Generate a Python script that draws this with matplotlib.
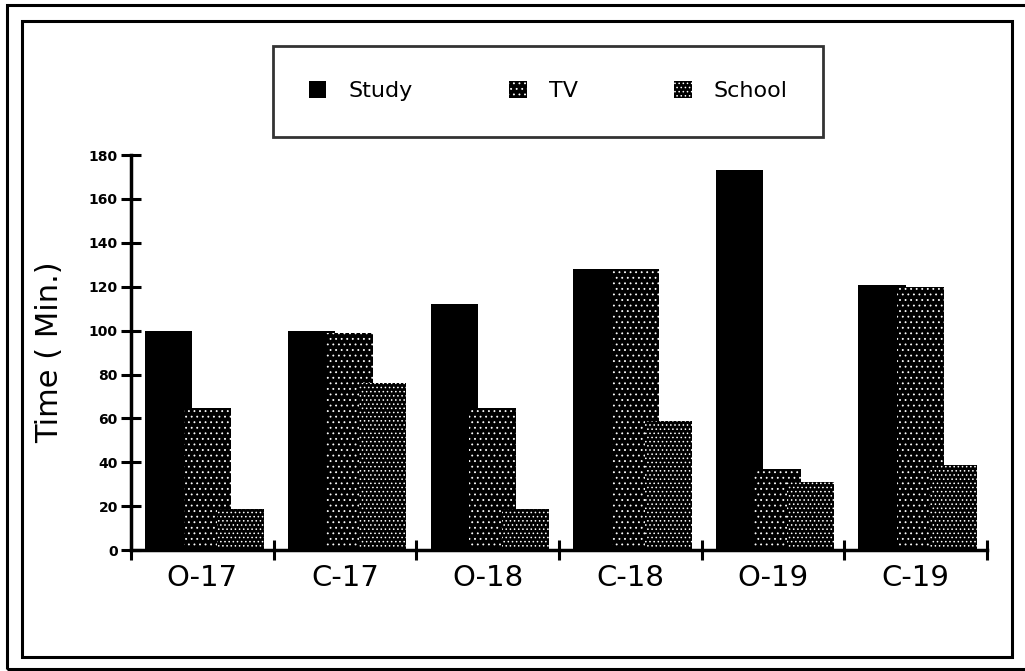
import matplotlib
matplotlib.use("Agg")
import matplotlib.pyplot as plt
from matplotlib.patches import Rectangle

groups = ["O-17", "C-17", "O-18", "C-18", "O-19", "C-19"]
study = [100, 100, 112, 128, 173, 121]
tv = [65, 99, 65, 128, 37, 120]
school = [19, 76, 19, 59, 31, 39]

plt.rcParams['hatch.color'] = 'white'
plt.rcParams['hatch.linewidth'] = 0.6

fig = plt.figure(figsize=(10.25, 6.71), dpi=100)
ax = fig.add_axes([0.1278, 0.180, 0.835, 0.589])

x = list(range(len(groups)))
w = 0.33
ax.bar([i + 0.10 for i in x], study, w, align='edge', color='black', label='Study')
ax.bar([i + 0.37 for i in x], tv, w, align='edge', color='black', hatch='...', label='TV')
ax.bar([i + 0.60 for i in x], school, w, align='edge', color='black', hatch='....', label='School')

ax.set_xlim(0, 6)
ax.set_ylim(0, 180)
ax.set_yticks(range(0, 181, 20))
ax.set_yticklabels([str(v) for v in range(0, 181, 20)], fontsize=10, fontweight='bold')
ax.set_xticks(range(0, 7))
ax.set_xticklabels([])
ax.set_xticks([i + 0.5 for i in x], minor=True)
ax.set_xticklabels(groups, minor=True, fontsize=21)
ax.tick_params(axis='x', which='minor', length=0, pad=10)
ax.tick_params(which='major', direction='inout', length=15, width=2.2)
ax.tick_params(axis='y', pad=2)
for s in ['top', 'right']:
    ax.spines[s].set_visible(False)
for s in ['left', 'bottom']:
    ax.spines[s].set_linewidth(2.5)
ax.set_ylabel("Time ( Min.)", fontsize=22, labelpad=18)

leg = fig.legend(loc='lower left', bbox_to_anchor=(0.2663, 0.796, 0.537, 0.147),
                 mode='expand', ncol=3, fontsize=16, frameon=True, fancybox=False,
                 edgecolor='black', borderpad=1.6, handlelength=0.8, handleheight=0.8,
                 handletextpad=1.0, borderaxespad=0)
leg.get_frame().set_linewidth(2)

# double border frame around the figure
fig.add_artist(Rectangle((0.0068, 0.003), 1.05, 0.9895, transform=fig.transFigure,
                         fill=False, lw=2.2, color='black'))
fig.add_artist(Rectangle((0.0215, 0.0209), 0.9655, 0.9478, transform=fig.transFigure,
                         fill=False, lw=2.2, color='black'))

fig.savefig("out.png", dpi=100)
